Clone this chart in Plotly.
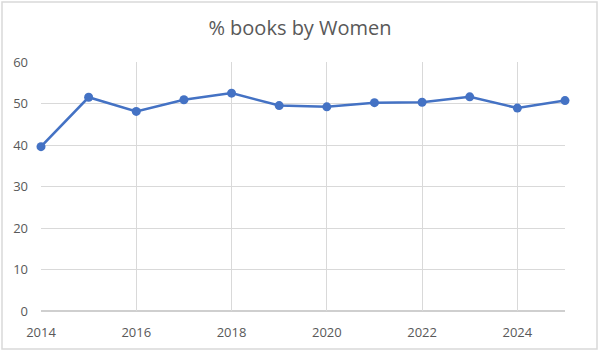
import plotly.graph_objects as go

years = [2014, 2015, 2016, 2017, 2018, 2019, 2020, 2021, 2022, 2023, 2024, 2025]
pct_women = [39.6, 51.5, 48.1, 50.9, 52.5, 49.5, 49.2, 50.2, 50.3, 51.6, 48.9, 50.7]
x_ticks = [2014, 2016, 2018, 2020, 2022, 2024]
y_ticks = [0, 10, 20, 30, 40, 50, 60]
title_text = "% books by Women"

font_family = "Open Sans, Liberation Sans, sans-serif"
grey_text = "#595959"
grid = "#d9d9d9"

fig = go.Figure()
fig.add_trace(go.Scatter(
    x=years, y=pct_women, mode="lines+markers",
    line=dict(color="#4472C4", width=2.5),
    marker=dict(color="#4472C4", size=9),
    showlegend=False, cliponaxis=False,
))

fig.update_layout(
    width=600, height=352,
    margin=dict(l=41, r=35, t=62, b=41),
    paper_bgcolor="white", plot_bgcolor="white",
    title=dict(text=title_text, x=0.5, xanchor="center", y=1 - 28 / 352, yanchor="middle",
               font=dict(family=font_family, size=20, color=grey_text)),
    font=dict(family=font_family, size=13, color=grey_text),
    xaxis=dict(range=[2014, 2025], tickmode="array", tickvals=x_ticks,
               showgrid=True, gridcolor=grid, gridwidth=1.3, zeroline=False,
               showline=False, ticks="", ticklabelstandoff=12,
               tickfont=dict(size=13, color=grey_text)),
    yaxis=dict(range=[0, 60], tickmode="array", tickvals=y_ticks,
               showgrid=True, gridcolor=grid, gridwidth=1.3, zeroline=False,
               showline=False, ticks="", ticklabelstandoff=12,
               tickfont=dict(size=13, color=grey_text)),
    shapes=[
        dict(type="line", xref="paper", yref="paper", x0=0, x1=1, y0=0, y1=0,
             line=dict(color="#bfbfbf", width=1.3), layer="below"),
        dict(type="rect", xref="paper", yref="paper",
             x0=(2 - 41) / 524, x1=(597 - 41) / 524,
             y0=(311 - 349) / 249, y1=(311 - 2) / 249,
             line=dict(color=grid, width=1.5), layer="below"),
    ],
)

fig.write_html("out.html")
